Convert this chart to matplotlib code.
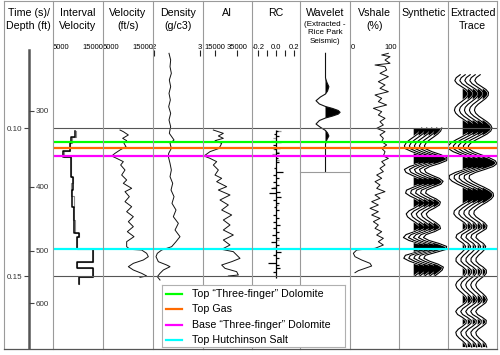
import numpy as np
import matplotlib
matplotlib.use("Agg")
import matplotlib.pyplot as plt
from matplotlib.lines import Line2D
import matplotlib.patheffects as pe

plt.rcParams['font.family'] = ['Liberation Sans', 'DejaVu Sans']

# ---------------- data ----------------
titles = [["Time (s)/", "Depth (ft)"], ["Interval", "Velocity"], ["Velocity", "(ft/s)"],
          ["Density", "(g/c3)"], ["AI"], ["RC"], ["Wavelet"], ["Vshale", "(%)"],
          ["Synthetic"], ["Extracted", "Trace"]]
wavelet_note = ["(Extracted -", "Rice Park", "Seismic)"]

time_ticks = [0.10, 0.15]
time_tick_labels = ["0.10", "0.15"]
depth_tick_ms = [94.16, 119.83, 141.45, 159.12]
depth_tick_labels = ["300", "400", "500", "600"]

marker_names = ['Top \u201cThree-finger\u201d Dolomite', 'Top Gas',
                'Base \u201cThree-finger\u201d Dolomite', 'Top Hutchinson Salt']
marker_ms = [104.73, 106.76, 109.46, 140.77]
marker_colors = ['#00ff00', '#ff6a00', '#ff00ff', '#00ffff']
window_ms = [100.0, 150.0]

# interval velocity (step curves), ft/s
iv_edges_ms = [100.9, 103.15, 105.18, 107.66, 109.91, 116.67, 120.95, 126.58,
               135.59, 136.71, 140.99, 145.16, 147.41, 150.22, 152.7]
iv_vals = [9333, 8667, 8400, 7067, 8533, 8933, 8800, 9200, 10267, 9733, 12933, 9733, 12933, 10200]
iv2_edges_ms = [100.9, 103.15, 105.18, 107.66, 109.91, 116.67, 118.5, 123.0, 126.58, 131.0,
                135.59, 136.71, 140.99, 145.16, 147.41, 150.22, 152.7]
iv2_vals = [9533, 8867, 8400, 7267, 8533, 8933, 8600, 9200, 9000, 9400, 10267, 9733,
            12933, 9733, 12933, 10200]

# velocity log, ft/s
vel_ms = [100.68, 101.24, 102.36, 103.49, 104.28, 105.18, 106.31, 107.43, 108.56, 109.46,
          110.25, 111.37, 112.50, 114.19, 115.88, 117.57, 118.69, 120.38, 121.51, 123.20,
          124.89, 126.58, 128.27, 129.96, 131.65, 133.33, 135.02, 136.71, 138.40, 140.09,
          140.99, 141.22, 142.34, 143.47, 144.59, 145.72, 146.85, 147.97, 149.10, 150.0, 150.45]
vel_vals = [8400, 9067, 10067, 8933, 9733, 9200, 9600, 8400, 7400, 6733,
            7733, 9067, 8533, 9400, 8733, 9733, 9067, 10733, 9400, 10267,
            9400, 10733, 9733, 11067, 10067, 11067, 9867, 11200, 9733, 9733,
            10400, 12733, 13733, 14067, 13067, 11067, 10067, 11067, 12733, 13733, 12400]

# density log, g/cc
den_ms = [74.77, 77.03, 79.28, 81.53, 83.78, 86.04, 88.29, 90.54, 92.79, 95.04, 97.30, 99.55,
          101.80, 104.05, 105.18, 106.87, 108.56, 109.68, 111.94, 114.19, 116.44, 118.69,
          120.95, 123.20, 125.45, 127.70, 129.96, 132.21, 134.46, 136.71, 138.40, 140.09,
          141.22, 142.34, 143.47, 145.16, 146.28, 146.85, 147.97, 149.10, 150.22, 151.35]
den_vals = [2.326, 2.362, 2.348, 2.377, 2.333, 2.362, 2.326, 2.355, 2.319, 2.362, 2.326, 2.362,
            2.333, 2.435, 2.348, 2.377, 2.319, 2.312, 2.348, 2.377, 2.348, 2.406,
            2.370, 2.435, 2.391, 2.478, 2.420, 2.529, 2.457, 2.565, 2.478, 2.384,
            2.167, 2.072, 2.043, 2.094, 2.275, 2.348, 2.203, 2.130, 2.072, 2.130]

# acoustic impedance
ai_ms = [100.68, 101.24, 101.80, 102.70, 103.49, 104.28, 105.18, 106.31, 106.98, 107.99,
         109.46, 110.25, 111.37, 112.50, 114.19, 115.88, 117.0, 118.13, 119.82, 120.95,
         122.63, 124.32, 126.01, 127.70, 129.39, 131.08, 132.77, 134.46, 136.15, 137.84,
         139.53, 140.99, 141.78, 142.91, 144.03, 145.16, 146.28, 147.41, 148.54, 149.66, 150.0]
ai_vals = [13485, 18030, 22576, 18030, 22576, 15000, 21061, 19545, 18030, 10455,
           5000, 10455, 16515, 13485, 18030, 15000, 21061, 16515, 25606, 18030,
           28636, 19545, 27121, 21061, 30152, 22576, 28636, 22576, 31667, 22576,
           28636, 21061, 31667, 34697, 37727, 30152, 21061, 24091, 34697, 36212, 27121]

# reflection coefficients
rc_ms = [101.13, 101.91, 102.83, 104.62, 105.74, 106.65, 107.20, 108.47, 110.25,
         111.37, 113.63, 114.75, 115.88, 117.0, 118.13, 119.26, 120.38, 121.51, 122.07,
         123.20, 124.32, 125.45, 126.58, 127.70, 129.39, 130.52, 131.65, 132.77, 133.90,
         135.02, 136.15, 137.27, 138.40, 139.53, 140.65, 141.78, 142.91, 144.03, 145.50,
         146.28, 147.41, 148.54]
rc_vals = [0.019, -0.019, 0.037, 0.056, -0.030, 0.044, -0.025, 0.030, 0.019,
           0.037, -0.019, 0.074, -0.030, 0.037, -0.037, 0.030, -0.056, 0.044, -0.074,
           0.056, -0.037, 0.030, -0.022, 0.037, -0.030, 0.037, -0.030, 0.044, -0.037,
           0.030, -0.044, 0.037, -0.056, 0.037, -0.030, 0.056, -0.037, 0.030, -0.093,
           0.037, 0.044, -0.030]
rc2_ms = [101.13, 103.49, 104.28, 107.20, 108.00, 108.80, 110.80, 119.80, 126.0, 137.80, 141.0, 143.0]
rc2_vals = [0.056, -0.037, -0.056, -0.037, 0.030, -0.044, 0.030, -0.030, 0.025, 0.030, 0.045, -0.020]

# wavelet (amplitude, arbitrary units)
wav_ms = [74.77, 83.11, 84.46, 86.05, 87.50, 88.51, 89.53, 90.78, 91.89, 92.74, 93.41, 94.09,
          94.70, 95.30, 95.95, 96.62, 97.47, 98.65, 99.76, 100.84, 101.69, 102.70, 104.05,
          105.41, 114.86]
wav_amp = [0, 0, 1.2, 3.3, 2.0, 0, -5.0, -9.3, -6.0, 0, 7.0, 12.5,
           14.3, 12.5, 7.0, 0, -6.0, -9.3, -5.0, 0, 2.0, 3.3, 1.2, 0, 0]

# Vshale, %
vsh_ms = [74.77, 75.34, 75.90, 77.03, 78.15, 78.72, 79.28, 80.41, 81.53, 82.66, 84.35, 85.47,
          86.60, 87.73, 88.85, 89.98, 91.10, 92.23, 93.35, 94.48, 95.61, 96.73, 97.86, 98.99,
          100.11, 101.24, 102.36, 103.49, 104.62, 105.74, 106.87, 108.0, 109.46, 110.25,
          111.37, 112.50, 113.63, 114.75, 115.88, 117.0, 118.13, 119.26, 120.38, 121.51,
          122.63, 123.76, 124.89, 126.01, 127.14, 128.27, 129.39, 130.52, 131.65, 132.77,
          133.90, 135.02, 136.15, 137.27, 138.40, 139.53, 140.65, 141.22, 142.34, 143.47,
          144.59, 145.72, 146.62, 147.41, 148.20, 148.87]
vsh_vals = [81.2, 66.7, 84.8, 73.9, 84.8, 52.2, 73.9, 77.5, 63.0, 81.2, 59.4, 73.9,
            63.0, 81.2, 52.2, 66.7, 59.4, 77.5, 48.6, 66.7, 59.4, 73.9, 63.0, 70.3,
            55.8, 73.9, 63.0, 70.3, 66.7, 77.5, 66.7, 73.9, 70.3, 81.2,
            66.7, 73.9, 63.0, 70.3, 55.8, 66.7, 52.2, 63.0, 55.8, 73.9,
            52.2, 63.0, 44.9, 59.4, 41.3, 59.4, 44.9, 63.0, 48.6, 59.4,
            52.2, 66.7, 55.8, 70.3, 59.4, 70.3, 52.2, 12.3, 5.1, 8.7,
            23.2, 41.3, 44.9, 30.4, 15.9, 8.7]

# synthetic trace, 1 ms samples from 100 ms
syn_start_ms = 100
syn_amp = [8.0, 7.0, 4.1, 0.1, -4.1, -7.5, -9.3, -8.3, -1.7, 7.1, 13.2, 13.0, 5.7, -3.9, -9.3,
           -7.7, -1.5, 5.6, 9.4, 7.2, -0.3, -7.2, -8.1, -3.6, 2.7, 6.7, 5.8, 1.0, -4.7, -7.5,
           -6.2, -2.4, 2.4, 6.0, 6.8, 1.0, -7.6, -10.3, -4.7, 5.3, 12.9, 12.5, 2.4, -8.3, -9.9,
           -4.1, 4.4, 9.7, 8.5, 5.0, 1.0]

# extracted seismic trace, 1 ms samples from 82 ms
ext_start_ms = 82
ext_amp = [-2.5, -6.5, -7.9, -5.7, -1.2, 3.3, 5.8, 5.5, 3.0, -0.8, -4.7, -7.4, -8.3, -7.0,
           -3.9, 0.5, 4.8, 8.0, 9.3, 8.1, 4.5, -0.9, -6.7, -11.6, -14.3, -14.1, -9.5, -1.9,
           6.3, 12.4, 14.3, 10.5, 2.1, -7.2, -13.2, -13.6, -10.5, -5.0, 1.4, 7.0, 10.4, 10.8,
           8.5, 4.3, -0.8, -5.1, -8.4, -8.9, -6.6, -2.5, 1.8, 4.3, 3.6, -1.0, -5.8, -6.8,
           -3.8, 0.6, 3.0, 2.0, -0.8, -4.2, -6.6, -6.7, -3.9, 0.5, 3.6, 3.7, 1.3, -2.5,
           -5.7, -7.0, -5.9, -3.2, 0.3, 3.2, 4.5, 3.1, -0.8, -4.9, -7.0, -5.1, -0.2, 3.6,
           3.3, -0.2, -4.5, -6.9, -6.2, -3.5, 0.1, 3.0, 4.0]

# ---------------- layout ----------------
W, H = 500, 355
fig = plt.figure(figsize=(W / 100, H / 100), dpi=100)
fig.patch.set_facecolor('white')

col_edges = [4, 53, 103, 153, 203, 252, 300, 350, 399, 448, 497]
Y_TOP, Y_BOT = 50, 348
T_TOP = 0.07365
T_BOT = 0.17432
GRID = '#9a9a9a'
FS_T = 7.7
FS_TICK = 5.5


def px_axes(x0, x1, y0=Y_TOP, y1=Y_BOT, z=1):
    ax = fig.add_axes([x0 / W, 1 - y1 / H, (x1 - x0) / W, (y1 - y0) / H])
    ax.set_zorder(z)
    ax.patch.set_alpha(0)
    for s in ax.spines.values():
        s.set_visible(False)
    ax.set_ylim(T_BOT, T_TOP)
    ax.set_yticks([])
    ax.set_xticks([])
    return ax


def fig_line(xs, ys, **kw):
    fig.add_artist(Line2D([x / W for x in xs], [1 - y / H for y in ys], **kw))


def top_ticks(ax, ticks, labels, has=None, length=0, minor=None):
    ax.xaxis.tick_top()
    ax.set_xticks(ticks)
    ax.set_xticklabels(labels)
    if minor is not None:
        ax.set_xticks(minor, minor=True)
        ax.tick_params(axis='x', which='minor', top=True, bottom=False, direction='in',
                       length=length, width=0.8, color='#222')
    ax.tick_params(axis='x', which='major', top=True, bottom=False, labeltop=True,
                   labelbottom=False, direction='in', length=length, width=0.8,
                   pad=-0.8, labelsize=FS_TICK, color='#222')
    if has:
        for lab, ha in zip(ax.get_xticklabels(), has):
            lab.set_horizontalalignment(ha)


sec = lambda a: np.asarray(a, dtype=float) / 1000.0

# titles
for i, lines in enumerate(titles):
    xc = (col_edges[i] + col_edges[i + 1]) / 2
    for j, s in enumerate(lines):
        fig.text(xc / W, 1 - (13 + 13 * j) / H, s, ha='center', va='center', fontsize=FS_T)
xw = (col_edges[6] + col_edges[7]) / 2
for j, s in enumerate(wavelet_note):
    fig.text(xw / W, 1 - (24.5 + 8.5 * j) / H, s, ha='center', va='center', fontsize=5.8)

# time / depth axis
ax_t = px_axes(29, 53, z=2)
ax_t.spines['left'].set_visible(True)
ax_t.spines['left'].set_color('#555555')
ax_t.spines['left'].set_linewidth(1.8)
ax_t.set_yticks(time_ticks)
ax_t.set_yticklabels(time_tick_labels)
ax_t.tick_params(axis='y', direction='out', length=3.5, width=0.8, pad=1.5,
                 labelsize=5.8, color='#444', labelcolor='#333')
ax_d = ax_t.twinx()
ax_d.set_zorder(2)
for s in ax_d.spines.values():
    s.set_visible(False)
ax_d.spines['right'].set_position(('axes', 0))
ax_d.set_ylim(T_BOT, T_TOP)
ax_d.set_xticks([])
ax_d.set_yticks(sec(depth_tick_ms))
ax_d.set_yticklabels(depth_tick_labels)
ax_d.tick_params(axis='y', direction='out', length=3.5, width=0.8, pad=1.5,
                 labelsize=5.8, color='#444', labelcolor='#333')

# interval velocity
ax = px_axes(col_edges[1], col_edges[2])
ax.set_xlim(5000, 15000)
top_ticks(ax, [5000, 15000], ['5000', '15000'], has=['left', 'right'])
for edges, vals, c, lw in [(iv2_edges_ms, iv2_vals, '#8c8c8c', 0.8), (iv_edges_ms, iv_vals, 'black', 1.1)]:
    e = sec(edges)
    ax.plot(np.repeat(vals, 2), np.repeat(e, 2)[1:-1], color=c, lw=lw)

# velocity
ax = px_axes(col_edges[2], col_edges[3])
ax.set_xlim(5000, 15000)
top_ticks(ax, [5000, 15000], ['5000', '15000'], has=['left', 'right'])
ax.plot(vel_vals, sec(vel_ms), color='#111', lw=0.7)

# density
ax = px_axes(col_edges[3], col_edges[4])
ax.set_xlim(1.978, 3.065)
top_ticks(ax, [2, 3], ['2', '3'], length=4)
ax.plot(den_vals, sec(den_ms), color='#111', lw=0.7)

# AI
ax = px_axes(col_edges[4], col_edges[5])
ax.set_xlim(4091, 48636)
top_ticks(ax, [15000, 35000], ['15000', '35000'], length=4)
ax.plot(ai_vals, sec(ai_ms), color='#111', lw=0.7)

# RC
ax = px_axes(col_edges[5], col_edges[6])
ax.set_xlim(-0.2667, 0.2667)
top_ticks(ax, [-0.2, 0.0, 0.2], ['-0.2', '0.0', '0.2'], length=4, minor=[-0.1, 0.1])
rt = sec(rc_ms)
ax.hlines(sec(rc2_ms), 0, rc2_vals, color='#9a9a9a', lw=0.9)
ax.hlines(rt, 0, rc_vals, color='black', lw=0.9)
ax.vlines(0, rt.min() - 0.0005, rt.max() + 0.002, color='black', lw=0.9)

# wavelet
ax = px_axes(col_edges[6], col_edges[7])
ax.set_xlim(-25, 24)
wt = sec(wav_ms)
wa = np.asarray(wav_amp, dtype=float)
ax.fill_betweenx(wt, 0, wa, where=wa > 0, interpolate=True, color='black', lw=0)
ax.plot(wa, wt, color='#111', lw=0.8)
fig_line([col_edges[6], col_edges[7]], [172, 172], color=GRID, lw=0.8, zorder=2)

# vshale
ax = px_axes(col_edges[7], col_edges[8])
ax.set_xlim(-2.17, 104.3)
top_ticks(ax, [0, 100], ['0', '100'], has=['left', 'right'])
ax.plot(vsh_vals, sec(vsh_ms), color='#111', lw=0.7)

# wiggle traces
offsets = [14.7, 19.7, 24.7, 29.7, 34.7]


def wiggle(ax, t, amp):
    for i, b in enumerate(offsets):
        x = b + amp
        ax.fill_betweenx(t, b, x, where=amp > 0, interpolate=True, color='black', lw=0,
                         zorder=1 + 2 * i)
        ax.plot(x, t, color='black', lw=0.8, zorder=2 + 2 * i,
                path_effects=[pe.Stroke(linewidth=1.5, foreground='white'), pe.Normal()])


ax = px_axes(col_edges[8], col_edges[9])
ax.set_xlim(0, 49)
sa = np.asarray(syn_amp, dtype=float)
wiggle(ax, sec(syn_start_ms + np.arange(len(sa))), sa)

ax = px_axes(col_edges[9], col_edges[10])
ax.set_xlim(0, 49)
ea = np.asarray(ext_amp, dtype=float)
wiggle(ax, sec(ext_start_ms + np.arange(len(ea))), ea)

# horizon / window lines
ov = px_axes(col_edges[1], col_edges[10], z=3)
ov.set_xlim(0, 1)
for tm in window_ms:
    ov.axhline(tm / 1000, color='#555555', lw=0.8)
for tm, c in zip(marker_ms, marker_colors):
    ov.axhline(tm / 1000, color=c, lw=1.6)

# separators and frame
for x in col_edges:
    fig_line([x, x], [1, 349], color=GRID, lw=0.8, zorder=4)
fig_line([4, 497], [349, 349], color='#555555', lw=0.9, zorder=4)
fig_line([4, 497], [1, 1], color=GRID, lw=0.8, zorder=4)

# legend box
ax_leg = fig.add_axes([162 / W, 1 - 347 / H, (345 - 162) / W, (347 - 285) / H])
ax_leg.set_zorder(10)
ax_leg.set_xlim(0, 183)
ax_leg.set_ylim(62, 0)
ax_leg.set_xticks([])
ax_leg.set_yticks([])
ax_leg.set_facecolor('white')
for s in ax_leg.spines.values():
    s.set_color('#b0b0b0')
    s.set_linewidth(0.8)
for i, (name, c) in enumerate(zip(marker_names, marker_colors)):
    yy = 9 + 15.3 * i
    ax_leg.plot([4, 20], [yy, yy], color=c, lw=1.6)
    ax_leg.text(30, yy, name, va='center', ha='left', fontsize=FS_T)

fig.savefig('out.png', dpi=100, facecolor='white')
